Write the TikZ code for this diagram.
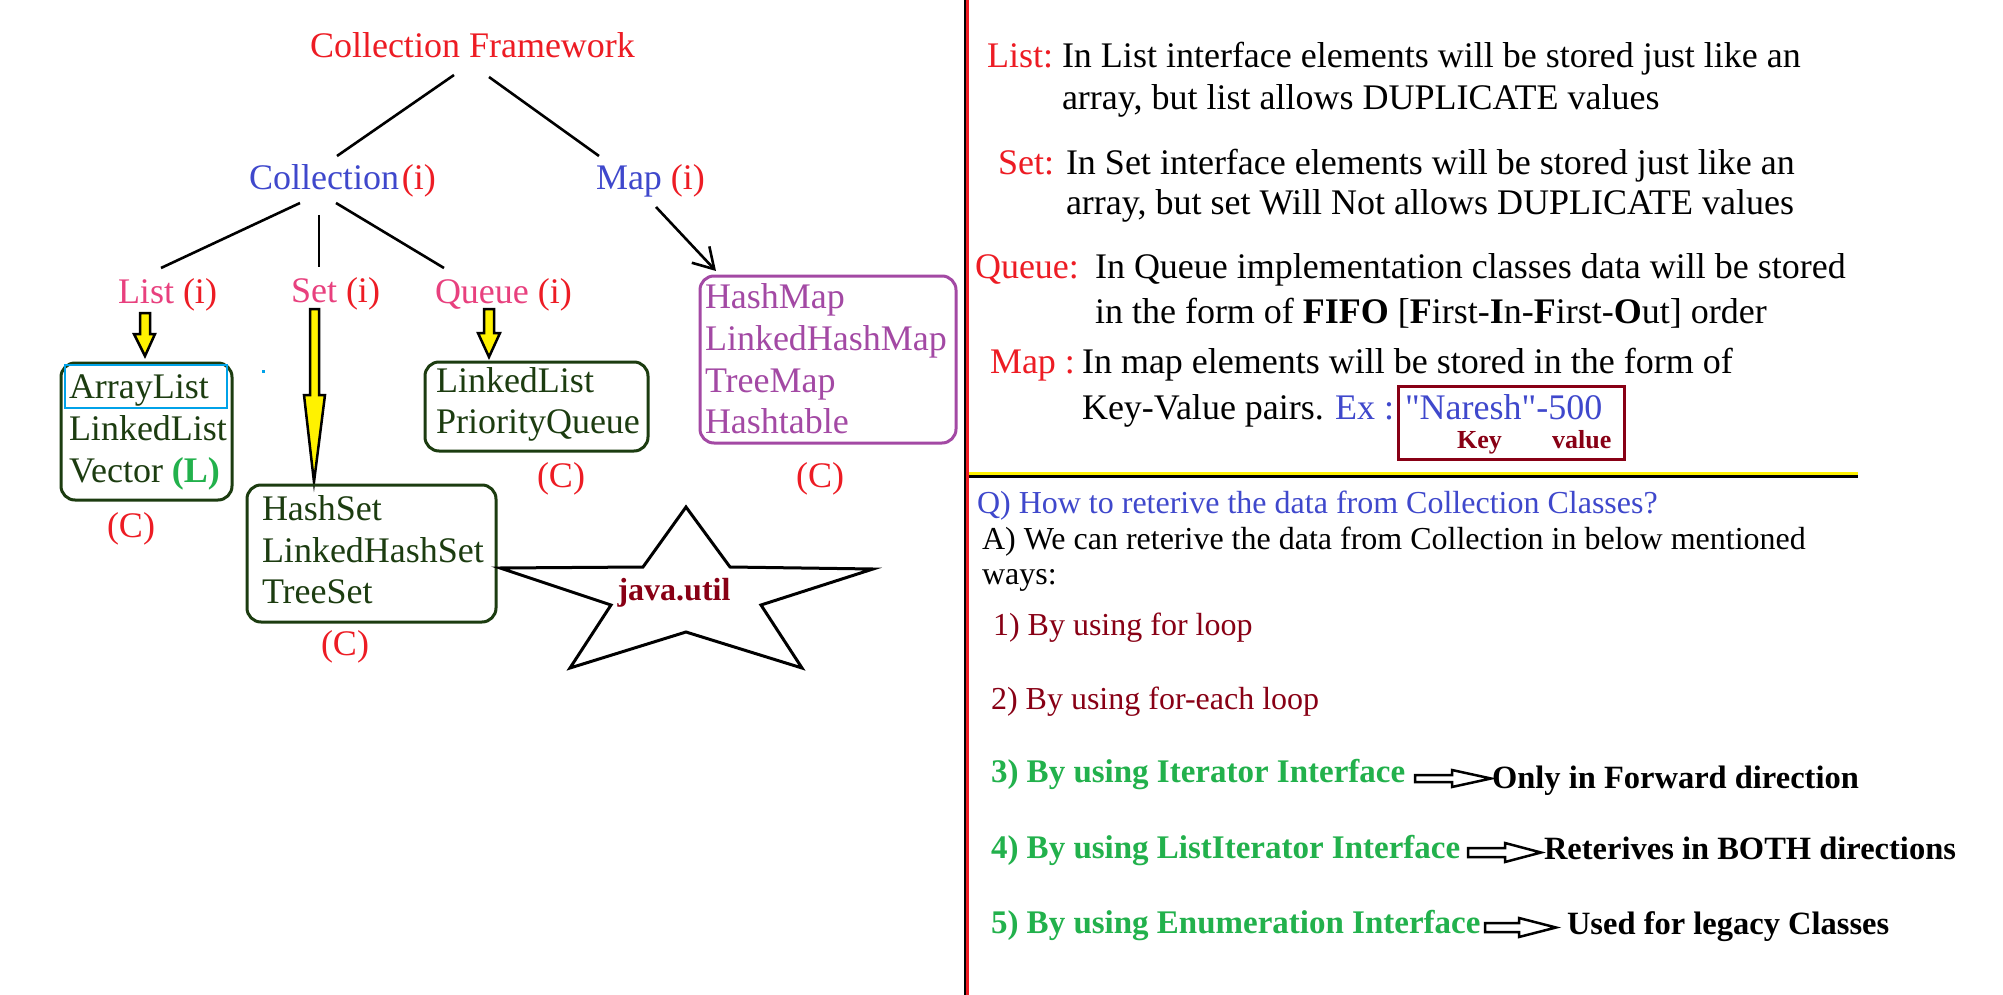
\documentclass[tikz,border=0pt]{standalone}
\usepackage{fontspec}
\setmainfont{Liberation Serif}
\newfontfamily\rawserif{Liberation Serif}
\usetikzlibrary{arrows.meta}
\definecolor{cred}{HTML}{ED1C24}
\definecolor{cblue}{HTML}{3F48CC}
\definecolor{cpink}{HTML}{E8407E}
\definecolor{cdg}{HTML}{1C3C10}
\definecolor{cgreen}{HTML}{22B14C}
\definecolor{cdred}{HTML}{880015}
\definecolor{cpurple}{HTML}{A349A4}
\definecolor{ccyan}{HTML}{00A2E8}
\definecolor{cyellow}{HTML}{FFF200}
\newcommand{\fsz}[1]{\fontsize{#1}{#1}\selectfont}
\begin{document}
\begin{tikzpicture}[x=1pt,y=-1pt,
  t/.style={anchor=base west, inner sep=0pt, outer sep=0pt, font=\fsz{36}},
  ts/.style={anchor=base west, inner sep=0pt, outer sep=0pt, font=\fsz{32}},
  tgb/.style={anchor=base west, inner sep=0pt, outer sep=0pt, font=\fsz{33}\bfseries, text=cgreen},
  tkb/.style={anchor=base west, inner sep=0pt, outer sep=0pt, font=\fsz{32.5}\bfseries, text=black},
  tc/.style={anchor=base, inner sep=0pt, outer sep=0pt, font=\fsz{36}, text=cred},
  tree/.style={line width=2.6pt, draw=black},
  gbox/.style={draw=cdg, line width=3pt, rounded corners=14pt, inner sep=0pt},
  pbox/.style={draw=cpurple, line width=3pt, rounded corners=14pt, inner sep=0pt},
  yarr/.style={draw=black, fill=cyellow, line width=2.5pt, line join=miter},
  harr/.style={draw=black, fill=white, line width=2.5pt, line join=miter},
  dg/.style={text=cdg},
  pu/.style={text=cpurple}]
\useasboundingbox (0,0) rectangle (2003,995);
\fill[white] (0,0) rectangle (2003,995);

% ---------- left tree ----------
\node[t, text=cred] (title) at (310,58) {Collection Framework};
\node[t] (coll) at (249,190) {\color{cblue}Collection\kern3pt\color{cred}(i)};
\node[t] (map) at (596,190) {\color{cblue}Map \color{cred}(i)};
\node[t] (list) at (118,303) {\color{cpink}List \color{cred}(i)};
\node[t] (set) at (291,302) {\color{cpink}Set \color{cred}(i)};
\node[t] (queue) at (435,303) {\color{cpink}Queue \color{cred}(i)};

\coordinate (t1) at (454,75);   \coordinate (c1) at (337,156);
\coordinate (t2) at (489,77);   \coordinate (m1) at (599,156);
\coordinate (c2) at (300,203);  \coordinate (l1) at (161,268);
\coordinate (c3) at (319,215);  \coordinate (s1) at (319,267);
\coordinate (c4) at (336,203);  \coordinate (q1) at (444,268);
\coordinate (m2) at (656,207);  \coordinate (mb1) at (716,271);
\draw[tree] (t1) -- (c1);
\draw[tree] (t2) -- (m1);
\draw[tree] (c2) -- (l1);
\draw[tree] (c3) -- (s1);
\draw[tree] (c4) -- (q1);
\draw[tree, -{Straight Barb[length=20pt,width=24pt]}] (m2) -- (mb1);

% yellow arrows
\draw[yarr] (140,313) -- (150,313) -- (150,334) -- (155,334) -- (145,356) -- (134,334) -- (140,334) -- cycle;
\draw[yarr] (310,309) -- (319,309) -- (319,395) -- (325,395) -- (314,482) -- (304,395) -- (310,395) -- cycle;
\draw[yarr] (484,309) -- (494,309) -- (494,333) -- (500,333) -- (489,357) -- (478,333) -- (484,333) -- cycle;

% List box
\node[gbox, minimum width=171pt, minimum height=137pt] (listbox) at (146.5,431.5) {};
\node[draw=ccyan, line width=2.5pt, inner sep=0pt, minimum width=162pt, minimum height=43pt] (albox) at (146,386.5) {};
\node[t, dg] (al) at (69,398) {ArrayList};
\node[t, dg] (ll) at (69,440) {LinkedList};
\node[t, dg] (vec) at (69,482) {Vector \textcolor{cgreen}{\textbf{(L)}}};
\node[tc] (c1l) at (131,537) {(C)};
\fill[ccyan] (261.5,369.5) rectangle (264.5,372.5);

% Set box
\node[gbox, minimum width=249pt, minimum height=137pt] (setbox) at (371.5,553.5) {};
\node[t, dg] (hs) at (262,520) {HashSet};
\node[t, dg] (lhs) at (262,562) {LinkedHashSet};
\node[t, dg] (ts) at (262,603) {TreeSet};
\node[tc] (c2l) at (345,655) {(C)};

% Queue box
\node[gbox, minimum width=223pt, minimum height=89pt] (queuebox) at (536.5,406.5) {};
\node[t, dg] (qll) at (436,392) {LinkedList};
\node[t, dg] (pq) at (436,433) {PriorityQueue};
\node[tc] (c3l) at (561,487) {(C)};

% Map box
\node[pbox, minimum width=256pt, minimum height=167pt] (mapbox) at (828,359.5) {};
\node[t, pu] (hm) at (705,308) {HashMap};
\node[t, pu] (lhm) at (705,350) {LinkedHashMap};
\node[t, pu] (tm) at (705,392) {TreeMap};
\node[t, pu] (ht) at (705,433) {Hashtable};
\node[tc] (c4l) at (820,487) {(C)};

% star
\draw[line width=3pt, line join=miter] (686,507) -- (730,567) -- (873,569) -- (761,605) -- (802,668) -- (686,632) -- (570,668) -- (611,605) -- (500,568) -- (643,567) -- cycle;
\node[anchor=base, inner sep=0pt, font=\fsz{32}\bfseries, text=cdred] (ju) at (674,600) {java.util};

% ---------- dividers ----------
\draw[black, line width=2pt] (965,0) -- (965,995);
\draw[cred, line width=3pt] (967.5,0) -- (967.5,995);
\draw[cyellow, line width=3pt] (969,473.5) -- (1858,473.5);
\draw[black, line width=3pt] (969,476.5) -- (1858,476.5);

% ---------- right top ----------
\node[t, text=cred] (rl) at (987,68) {List:};
\node[t] (rl1) at (1062,68) {In List interface elements will be stored just like an};
\node[t] (rl2) at (1062,110) {array, but list allows DUPLICATE values};
\node[t, text=cred] (rs) at (998,175) {Set:};
\node[t] (rs1) at (1066,175) {In Set interface elements will be stored just like an};
\node[t] (rs2) at (1066,215) {array, but set Will Not allows DUPLICATE values};
\node[t, text=cred] (rq) at (975,278) {Queue:};
\node[t] (rq1) at (1095,278) {In Queue implementation classes data will be stored};
\node[t] (rq2) at (1095,323) {in the form of \textbf{FIFO} [\textbf{F}irst-\textbf{I}n-\textbf{F}irst-\textbf{O}ut] order};
\node[t, text=cred] (rm) at (990,373) {Map :};
\node[t] (rm1) at (1082,373) {In map elements will be stored in the form of};
\node[t] (rm2) at (1082,419) {Key-Value pairs.};
\node[t, text=cblue] (ex) at (1335,419) {Ex :};
\node[draw=cdred, line width=3pt, inner sep=0pt, minimum width=226pt, minimum height=73pt] (kvbox) at (1511,422.5) {};
\node[t, text=cblue, font=\rawserif\fsz{36}] (nar) at (1405,419) {"Naresh"-500};
\node[anchor=base west, inner sep=0pt, font=\fsz{26}\bfseries, text=cdred] (key) at (1457,448) {Key};
\node[anchor=base west, inner sep=0pt, font=\fsz{26}\bfseries, text=cdred] (val) at (1552,448) {value};

% ---------- right bottom ----------
\node[ts, text=cblue] (qq) at (977,513) {Q) How to reterive the data from Collection Classes?};
\node[ts] (aa) at (982,549) {A) We can reterive the data from Collection in below mentioned};
\node[ts] (ways) at (982,584) {ways:};
\node[ts, text=cdred] (w1) at (993,635) {1) By using for loop};
\node[ts, text=cdred] (w2) at (991,709) {2) By using for-each loop};
\node[tgb] (w3) at (991,782) {3) By using Iterator Interface};
\node[tgb] (w4) at (991,858) {4) By using ListIterator Interface};
\node[tgb] (w5) at (991,933) {5) By using Enumeration Interface};
\draw[harr] (1415,775) -- (1452,775) -- (1452,770) -- (1491,778.5) -- (1452,787) -- (1452,782) -- (1415,782) -- cycle;
\draw[harr] (1468,848) -- (1505,848) -- (1505,843) -- (1541,852.5) -- (1505,862) -- (1505,857) -- (1468,857) -- cycle;
\draw[harr] (1485,923) -- (1519,923) -- (1519,918) -- (1556,927.5) -- (1519,937) -- (1519,932) -- (1485,932) -- cycle;
\node[tkb] (d3) at (1492,788) {Only in Forward direction};
\node[tkb] (d4) at (1544,859) {Reterives in BOTH directions};
\node[tkb] (d5) at (1567,934) {Used for legacy Classes};
\end{tikzpicture}
\end{document}
